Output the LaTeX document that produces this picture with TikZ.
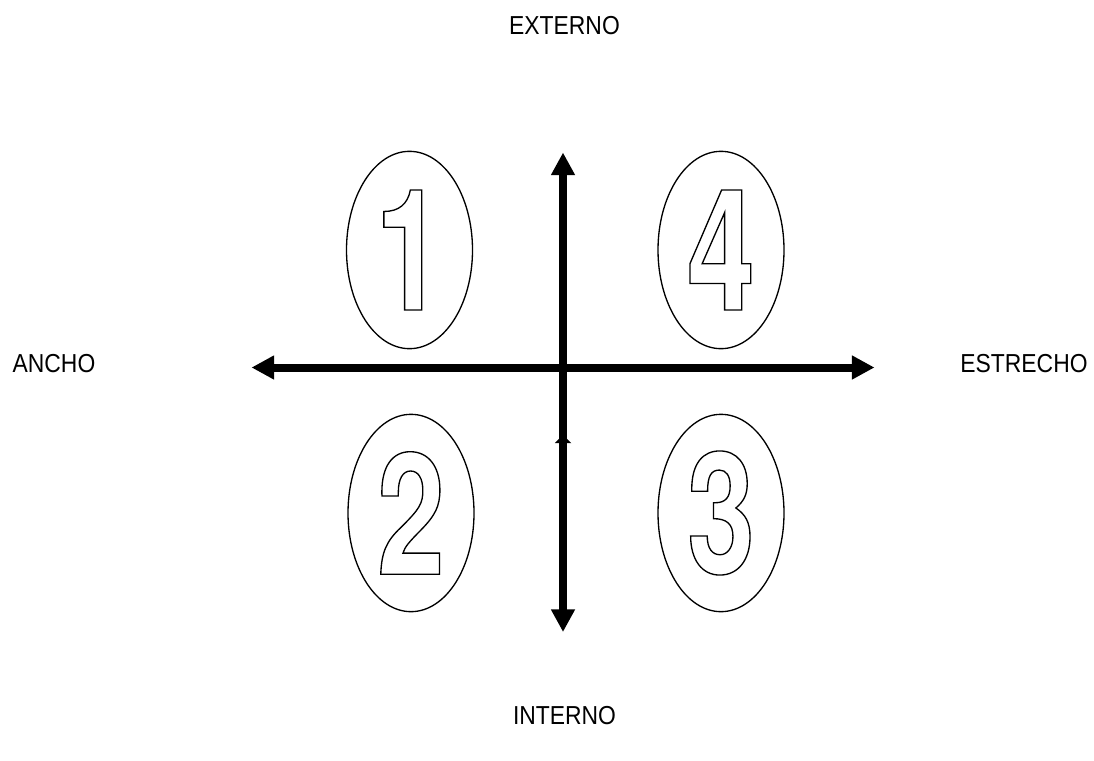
\documentclass[tikz,border=0pt]{standalone}
\usepackage{fontspec}
\usetikzlibrary{shapes.geometric,arrows.meta}
\setmainfont{Liberation Sans}
\newfontfamily\labfont[FakeStretch=0.88]{Liberation Sans}
\newfontfamily\digfont[FakeStretch=0.72]{TeX Gyre Heros}
\newcommand{\outl}[1]{\special{pdf:literal direct 1 Tr 1.0 w}#1\special{pdf:literal direct 0 Tr}}
\begin{document}
\begin{tikzpicture}[x=0.75pt,y=-0.75pt,
  lab/.style={font=\labfont\fontsize{19.5}{20}\selectfont, inner sep=0},
  oval/.style={ellipse, draw, line width=1pt, minimum width=94.5pt, minimum height=148pt, inner sep=0,
     font=\digfont\bfseries\fontsize{127}{127}\selectfont},
  axis/.style={line width=6pt, -{Triangle[length=17pt,width=17pt]}},
  smallhead/.style={line width=6pt, -{Triangle[length=6pt,width=12pt]}}]
\useasboundingbox (0,0) rectangle (1094,760);
% labels
\node[lab] (ext) at (564.5,25.5) {EXTERNO};
\node[lab] (int) at (564.5,716) {INTERNO};
\node[lab] (anc) at (54,364) {ANCHO};
\node[lab] (est) at (1024,364) {ESTRECHO};
% axes
\coordinate (C) at (563,367.5);
\coordinate (top) at (563,152.5);
\coordinate (bot) at (563,632);
\coordinate (left) at (251.5,367.5);
\coordinate (right) at (874.5,367.5);
\coordinate (mid) at (563,435);
\coordinate (midlow) at (563,500);
\draw[axis] (C) -- (top);
\draw[axis] (C) -- (bot);
\draw[axis] (C) -- (left);
\draw[axis] (C) -- (right);
\draw[smallhead] (midlow) -- (mid);
% ovals
\node[oval] (q1) at (409.5,250) {\outl{1}};
\node[oval] (q4) at (721,250) {\outl{4}};
\node[oval] (q2) at (411,513) {\outl{2}};
\node[oval] (q3) at (721,513) {\outl{3}};
\end{tikzpicture}
\end{document}
